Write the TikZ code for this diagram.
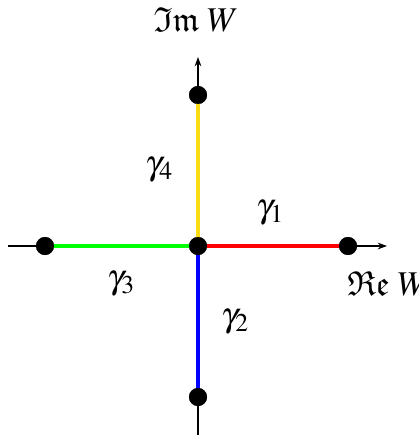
\documentclass[tikz,border=0pt]{standalone}
\usepackage{mathptmx}
\usepackage{amssymb}
\usetikzlibrary{arrows.meta}
\definecolor{cyel}{RGB}{250,220,20}
\begin{document}
\begin{tikzpicture}[x=0.75pt,y=-0.75pt,
  axis/.style={line width=1pt,-{Stealth[length=7pt,width=5pt]}},
  seg/.style={line width=3pt},
  pt/.style={circle,fill=black,inner sep=0pt,minimum size=13.5pt},
  lab/.style={font=\fontsize{26}{30}\selectfont}]
\useasboundingbox (0,0) rectangle (418,435);
\coordinate (L) at (8,246);
\coordinate (R) at (387,246);
\coordinate (B) at (198,435);
\coordinate (T) at (198,57);
\draw[axis] (L) -- (R);
\draw[axis] (B) -- (T);
\node[pt] (o) at (198,246) {};
\node[pt] (e) at (348,246) {};
\node[pt] (w) at (45,246) {};
\node[pt] (n) at (198,95) {};
\node[pt] (s) at (198,397) {};
\draw[seg,red] (o.center) -- (e.center);
\draw[seg,green] (o.center) -- (w.center);
\draw[seg,blue] (o.center) -- (s.center);
\draw[seg,cyel] (o.center) -- (n.center);
\node[pt] at (o) {};
\node[pt] at (e) {};
\node[pt] at (w) {};
\node[pt] at (n) {};
\node[pt] at (s) {};
\node[lab] (im) at (196,20) {$\mathfrak{Im}\;W$};
\node[lab,anchor=west,inner sep=0pt] (re) at (347,284) {$\mathfrak{Re}\;W$};
\node[lab] (g1) at (270,213) {$\gamma_1$};
\node[lab] (g2) at (235,322) {$\gamma_2$};
\node[lab] (g3) at (121,284) {$\gamma_3$};
\node[lab] (g4) at (159,170) {$\gamma_4$};
\end{tikzpicture}
\end{document}
